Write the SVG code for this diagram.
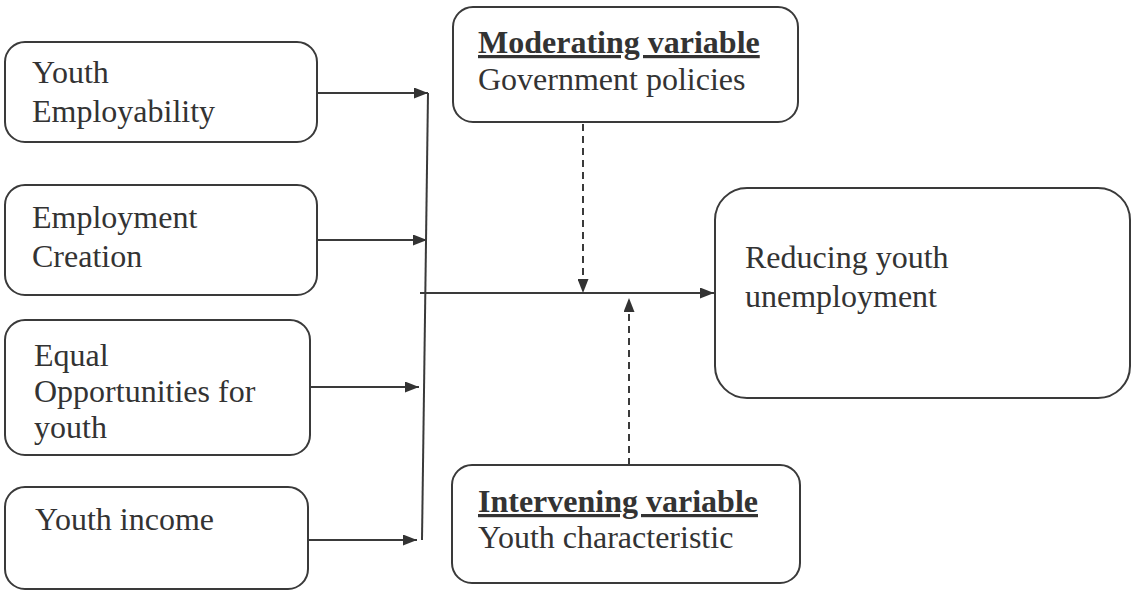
<svg xmlns="http://www.w3.org/2000/svg" width="1137" height="593" viewBox="0 0 1137 593">
<defs>
<style>
.box{fill:none;stroke:#3a3a3a;stroke-width:2}
.t{font-family:"Liberation Serif","Times New Roman",serif;font-size:32px;fill:#333}
.b{font-weight:bold;text-decoration:underline}
.ln{stroke:#3a3a3a;stroke-width:2;fill:none}
.d{stroke-dasharray:7,5}
</style>
<marker id="ah" viewBox="0 0 14 11" refX="14" refY="5.5" markerWidth="14" markerHeight="11" markerUnits="userSpaceOnUse" orient="auto">
<path d="M0,0 L14,5.5 L0,11 Z" fill="#333"/>
</marker>
</defs>
<rect width="1137" height="593" fill="#fff"/>
<g id="n1"><rect class="box" x="5" y="42" width="312" height="100" rx="20"/>
<text class="t" x="32" y="83">Youth</text><text class="t" x="32" y="122">Employability</text></g>
<g id="n2"><rect class="box" x="5" y="185" width="312" height="110" rx="20"/>
<text class="t" x="32" y="228">Employment</text><text class="t" x="32" y="267">Creation</text></g>
<g id="n3"><rect class="box" x="5" y="320" width="305" height="135" rx="20"/>
<text class="t" x="34" y="366">Equal</text><text class="t" x="34" y="402">Opportunities for</text><text class="t" x="34" y="438">youth</text></g>
<g id="n4"><rect class="box" x="5" y="487" width="303" height="102" rx="20"/>
<text class="t" x="35" y="530">Youth income</text></g>
<g id="n5"><rect class="box" x="453" y="7" width="345" height="115" rx="20"/>
<text class="t b" x="478" y="53">Moderating variable</text><text class="t" x="478" y="90">Government policies</text></g>
<g id="n6"><rect class="box" x="452" y="465" width="348" height="118" rx="20"/>
<text class="t b" x="478" y="512">Intervening variable</text><text class="t" x="478" y="548">Youth characteristic</text></g>
<g id="n7"><rect class="box" x="715" y="188" width="415" height="210" rx="32"/>
<text class="t" x="745" y="268">Reducing youth</text><text class="t" x="745" y="307">unemployment</text></g>
<g id="connectors">
<line class="ln" x1="317" y1="93" x2="428" y2="93" marker-end="url(#ah)"/>
<line class="ln" x1="317" y1="240" x2="427" y2="240" marker-end="url(#ah)"/>
<line class="ln" x1="310" y1="387" x2="419" y2="387" marker-end="url(#ah)"/>
<line class="ln" x1="308" y1="540" x2="417" y2="540" marker-end="url(#ah)"/>
<line class="ln" x1="428" y1="93" x2="422" y2="540"/>
<line class="ln" x1="420" y1="293" x2="714" y2="293" marker-end="url(#ah)"/>
<line class="ln d" x1="583" y1="124" x2="583" y2="293" marker-end="url(#ah)"/>
<line class="ln d" x1="629" y1="465" x2="629" y2="298" marker-end="url(#ah)"/>
</g>
</svg>
